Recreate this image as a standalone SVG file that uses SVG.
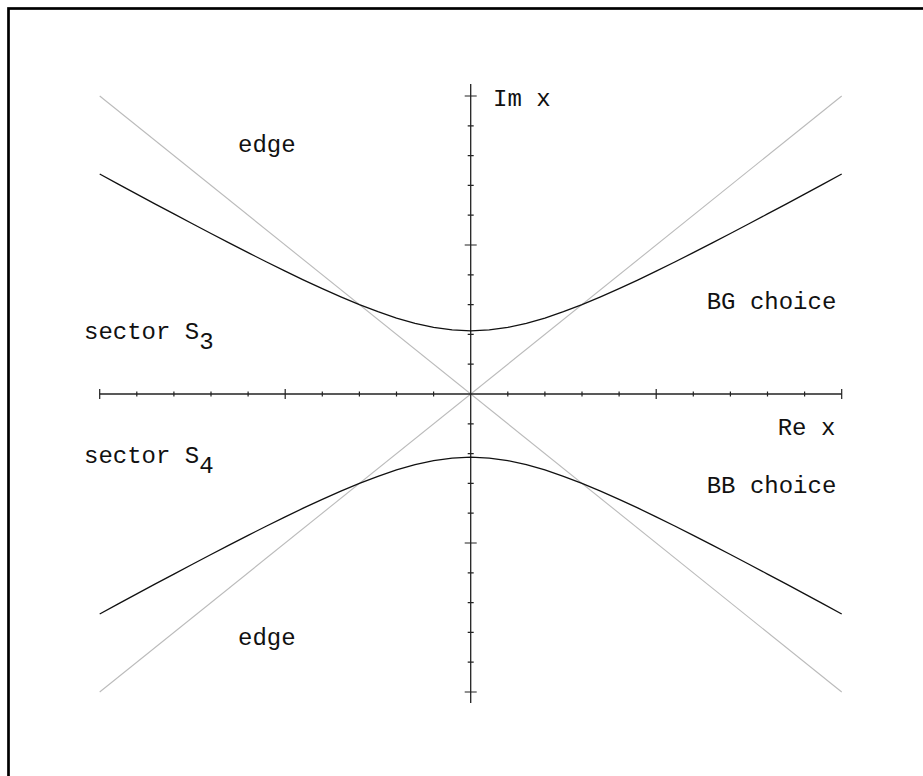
<svg xmlns="http://www.w3.org/2000/svg" width="923" height="776" viewBox="0 0 923 776">
<style>
.frame{fill:none;stroke:#000;stroke-width:2.7}
.axis{fill:none;stroke:#222;stroke-width:1.3}
.tick{fill:none;stroke:#222;stroke-width:1.2}
.asym{fill:none;stroke:#bbb;stroke-width:1.1}
.curve{fill:none;stroke:#111;stroke-width:1.3;vector-effect:non-scaling-stroke}
.lbl{font-family:"Liberation Mono","DejaVu Sans Mono",monospace;font-size:24px;fill:#111}
</style>
<rect width="923" height="776" fill="#fff"/>
<rect class="frame" x="8.5" y="8.5" width="1000" height="1000"/>
<g id="asymptotes">
<line class="asym" x1="99.7" y1="96" x2="841.7" y2="692"/>
<line class="asym" x1="841.7" y1="96" x2="99.7" y2="692"/>
</g>
<g id="axes">
<line class="axis" x1="99.7" y1="394" x2="841.7" y2="394"/>
<line class="axis" x1="470.7" y1="84" x2="470.7" y2="703"/>
<path class="tick" d="M99.7 389v10M136.8 391.5v5M173.9 391.5v5M211 391.5v5M248.1 391.5v5M285.2 389v10M322.3 391.5v5M359.4 391.5v5M396.5 391.5v5M433.6 391.5v5M507.8 391.5v5M544.9 391.5v5M582 391.5v5M619.1 391.5v5M656.2 389v10M693.3 391.5v5M730.4 391.5v5M767.5 391.5v5M804.6 391.5v5M841.7 389v10"/>
<path class="tick" d="M464.7 96h12M467.7 125.8h6M467.7 155.6h6M467.7 185.4h6M467.7 215.2h6M464.7 245h12M467.7 274.8h6M467.7 304.6h6M467.7 334.4h6M467.7 364.2h6M467.7 423.8h6M467.7 453.6h6M467.7 483.4h6M467.7 513.2h6M464.7 543h12M467.7 572.8h6M467.7 602.6h6M467.7 632.4h6M467.7 662.2h6M464.7 692h12"/>
</g>
<g id="curves">
<g transform="translate(470.7,394) scale(37.1,-29.8)">
<polyline class="curve" points="-10,7.382 -9.5,7.044 -9,6.708 -8.5,6.374 -8,6.042 -7.5,5.712 -7,5.385 -6.5,5.062 -6,4.743 -5.5,4.430 -5,4.123 -4.5,3.824 -4,3.536 -3.5,3.260 -3,3 -2.5,2.761 -2,2.550 -1.5,2.372 -1,2.236 -0.5,2.151 0,2.121 0.5,2.151 1,2.236 1.5,2.372 2,2.550 2.5,2.761 3,3 3.5,3.260 4,3.536 4.5,3.824 5,4.123 5.5,4.430 6,4.743 6.5,5.062 7,5.385 7.5,5.712 8,6.042 8.5,6.374 9,6.708 9.5,7.044 10,7.382"/>
</g>
<g transform="translate(470.7,394) scale(37.1,29.8)">
<polyline class="curve" points="-10,7.382 -9.5,7.044 -9,6.708 -8.5,6.374 -8,6.042 -7.5,5.712 -7,5.385 -6.5,5.062 -6,4.743 -5.5,4.430 -5,4.123 -4.5,3.824 -4,3.536 -3.5,3.260 -3,3 -2.5,2.761 -2,2.550 -1.5,2.372 -1,2.236 -0.5,2.151 0,2.121 0.5,2.151 1,2.236 1.5,2.372 2,2.550 2.5,2.761 3,3 3.5,3.260 4,3.536 4.5,3.824 5,4.123 5.5,4.430 6,4.743 6.5,5.062 7,5.385 7.5,5.712 8,6.042 8.5,6.374 9,6.708 9.5,7.044 10,7.382"/>
</g>
</g>
<g id="labels">
<text class="lbl" x="493" y="106">Im x</text>
<text class="lbl" x="777.7" y="435">Re x</text>
<text class="lbl" x="238" y="152">edge</text>
<text class="lbl" x="238" y="645">edge</text>
<text class="lbl" x="706.7" y="309.3">BG choice</text>
<text class="lbl" x="706.7" y="493.3">BB choice</text>
<text class="lbl" x="84" y="339.3">sector S<tspan dy="10">3</tspan></text>
<text class="lbl" x="84" y="462.7">sector S<tspan dy="10.6">4</tspan></text>
</g>
</svg>
